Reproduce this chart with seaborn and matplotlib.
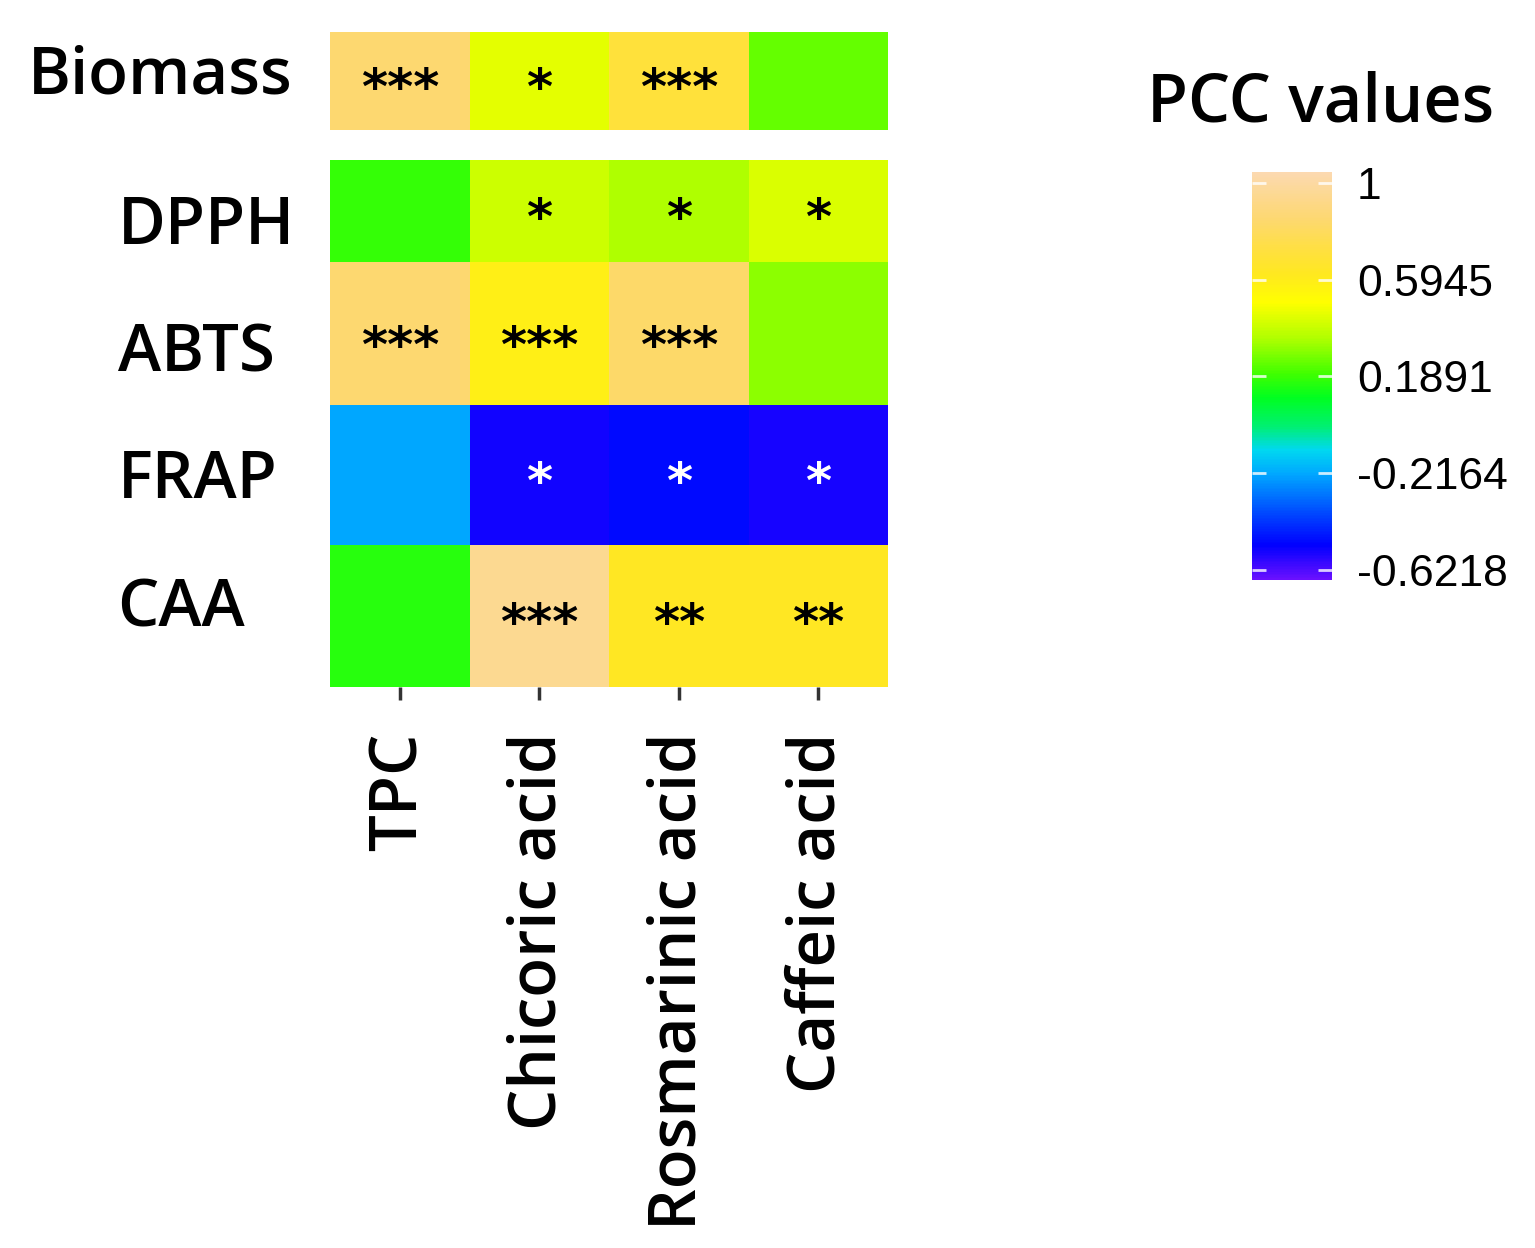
import numpy as np
import pandas as pd
import matplotlib
matplotlib.use("Agg")
import matplotlib.pyplot as plt
import seaborn as sns
from matplotlib.colors import LinearSegmentedColormap
from matplotlib.transforms import offset_copy

# ---------------- data ----------------
rows = ["Biomass", "DPPH", "ABTS", "FRAP", "CAA"]
cols = ["TPC", "Chicoric acid", "Rosmarinic acid", "Caffeic acid"]

biomass = [0.85, 0.45, 0.70, 0.25]
dpph = [0.18, 0.40, 0.35, 0.43]
abts = [0.85, 0.58, 0.83, 0.30]
frap = [-0.22, -0.54, -0.50, -0.55]
caa = [0.16, 0.95, 0.63, 0.63]

sig_biomass = ["***", "*", "***", ""]
sig_dpph = ["", "*", "*", "*"]
sig_abts = ["***", "***", "***", ""]
sig_frap = ["", "*", "*", "*"]
sig_caa = ["", "***", "**", "**"]

cbar_ticks = [1, 0.5945, 0.1891, -0.2164, -0.6218]
cbar_ticklabels = ["1", "0.5945", "0.1891", "-0.2164", "-0.6218"]
vmin, vmax = -0.664, 1.046

# colour stops (value, colour)
stop_values = [-0.664, -0.52, -0.40, -0.22, -0.12, -0.02, 0.10, 0.20, 0.35, 0.50, 0.62, 0.72, 0.85, 1.046]
stop_colors = ["#6a10ff", "#0000ff", "#0040ff", "#00a8ff", "#00d8f0", "#00f070", "#00ff20",
               "#40ff00", "#b0ff00", "#ffff00", "#ffe820", "#ffe040", "#fdd870", "#fcd9b0"]

values = [biomass, dpph, abts, frap, caa]
sigs = [sig_biomass, sig_dpph, sig_abts, sig_frap, sig_caa]
star_colors = ["black", "black", "black", "white", "black"]

# ---------------- style ----------------
sns.set_style("white")
plt.rcParams["font.family"] = ["Open Sans", "DejaVu Sans"]
plt.rcParams["text.color"] = "black"
plt.rcParams["xtick.labelcolor"] = "black"
plt.rcParams["ytick.labelcolor"] = "black"

cmap = LinearSegmentedColormap.from_list(
    "pcc", [((v - vmin) / (vmax - vmin), c) for v, c in zip(stop_values, stop_colors)])

W, H = 1535, 1248
fig = plt.figure(figsize=(W / 100, H / 100), dpi=100)

def rect(x0, y0, x1, y1):
    return [x0 / W, 1 - y1 / H, (x1 - x0) / W, (y1 - y0) / H]

row_px = [(32, 130), (160, 262), (262, 405), (405, 545), (545, 687)]
label_down = [-4.5, 16.5, 21, 7, -6]   # vertical nudges of row labels (px, down positive)
star_down = [9, 9, 15, 9, 9]           # asterisks sit high in their glyph box
hm_x0, hm_x1 = 330, 888
LABEL_WEIGHT = "semibold"

cax = fig.add_axes(rect(1252, 172, 1332, 580))

for i, (name, vals, sig) in enumerate(zip(rows, values, sigs)):
    ax = fig.add_axes(rect(hm_x0, row_px[i][0], hm_x1, row_px[i][1]))
    df = pd.DataFrame([vals], index=[name], columns=cols)
    last = i == len(rows) - 1
    sns.heatmap(df, ax=ax, cmap=cmap, vmin=vmin, vmax=vmax,
                cbar=(i == 0), cbar_ax=cax if i == 0 else None,
                cbar_kws={"ticks": cbar_ticks} if i == 0 else {},
                annot=np.array([sig]), fmt="",
                annot_kws={"fontsize": 36, "fontweight": "bold", "color": star_colors[i],
                           "family": "DejaVu Sans"},
                xticklabels=cols if last else False, yticklabels=[name],
                linewidths=0)
    for t in ax.texts:
        t.set_transform(offset_copy(t.get_transform(), fig=fig, x=0, y=-star_down[i], units="dots"))
    ax.set_xlabel("")
    ax.set_ylabel("")
    h_px = row_px[i][1] - row_px[i][0]
    ax.set_yticks([0.5 + label_down[i] / h_px])
    ax.set_yticklabels([name], rotation=0, fontsize=47, color="black", fontweight=LABEL_WEIGHT)
    ax.tick_params(axis="y", length=0)
    if i == 0:
        ax.tick_params(axis="y", pad=27)
        for lab in ax.get_yticklabels():
            lab.set_horizontalalignment("right")
    else:
        ax.tick_params(axis="y", pad=153)
        for lab in ax.get_yticklabels():
            lab.set_horizontalalignment("left")
    if last:
        ax.tick_params(axis="x", bottom=True, length=9, width=2.5, color="#333333", pad=24)
        for lab in ax.get_xticklabels():
            lab.set_rotation(90)
            lab.set_fontsize(47)
            lab.set_color("black")
            lab.set_fontweight(LABEL_WEIGHT)
    else:
        ax.tick_params(axis="x", bottom=False)

# colorbar
cax.set_yticks(cbar_ticks)
cax.set_yticklabels(cbar_ticklabels, family=["Liberation Sans", "DejaVu Sans"], fontsize=32, color="black")
cax.tick_params(axis="y", length=0, left=False, right=True, labelleft=False, labelright=True, pad=18)
cax.hlines(cbar_ticks, 0, 0.17, transform=cax.get_yaxis_transform(), colors="white", linewidth=2, alpha=0.8)
cax.hlines(cbar_ticks, 0.83, 1.0, transform=cax.get_yaxis_transform(), colors="white", linewidth=2, alpha=0.8)
for s in cax.spines.values():
    s.set_visible(False)
try:
    fig.axes[1].collections[0].colorbar.outline.set_visible(False)
except Exception:
    pass

fig.text(1321 / W, 1 - 122 / H, "PCC values", fontsize=48, ha="center", va="baseline",
         color="black", fontweight=LABEL_WEIGHT)

fig.savefig("out.png", dpi=100)
